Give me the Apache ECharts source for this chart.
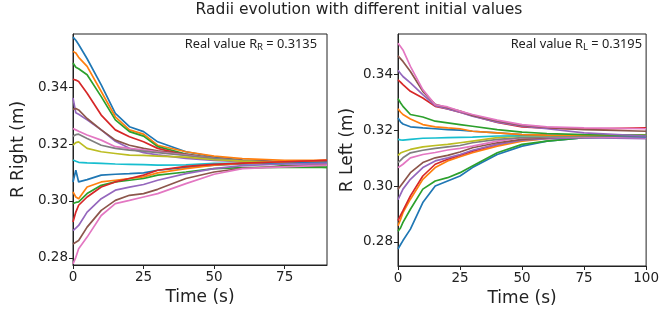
<!DOCTYPE html>
<html>
<head>
<meta charset="utf-8">
<script src="https://cdn.jsdelivr.net/npm/echarts@6/dist/echarts.min.js"></script>
<style>html,body{margin:0;padding:0;background:#fff}#c{width:662px;height:320px}</style>
</head>
<body>
<div id="c"></div>
<script>
// ---------- data ----------
const titleText = 'Radii evolution with different initial values';
const leftTime  = [0, 1, 2, 5, 10, 15, 20, 25, 30, 40, 50, 60, 75, 90];
const rightTime = [0, 1, 2, 5, 10, 15, 20, 25, 30, 40, 50, 60, 75, 100];
const leftXTicks  = [0, 25, 50, 75];
const rightXTicks = [0, 25, 50, 75, 100];
const yTicks = [0.28, 0.30, 0.32, 0.34];
const realRight = 0.3135;
const realLeft = 0.3195;

// R Right curves (descending initial value)
const rightR01 = [0.3576,0.3565,0.3550,0.3500,0.3408,0.3308,0.3261,0.3244,0.3208,0.3173,0.3155,0.3144,0.3138,0.3134];
const rightR02 = [0.3526,0.3520,0.3505,0.3473,0.3385,0.3296,0.3250,0.3235,0.3196,0.3173,0.3158,0.3149,0.3143,0.3143];
const rightR03 = [0.3485,0.3470,0.3465,0.3444,0.3367,0.3285,0.3244,0.3228,0.3191,0.3165,0.3149,0.3138,0.3125,0.3118];
const rightR04 = [0.3428,0.3425,0.3420,0.3379,0.3302,0.3250,0.3226,0.3208,0.3185,0.3161,0.3149,0.3142,0.3136,0.3143];
const rightR05 = [0.3362,0.3310,0.3305,0.3285,0.3250,0.3210,0.3185,0.3170,0.3162,0.3150,0.3143,0.3138,0.3135,0.3130];
const rightR06 = [0.3322,0.3325,0.3320,0.3290,0.3250,0.3214,0.3196,0.3185,0.3176,0.3165,0.3150,0.3142,0.3136,0.3132];
const rightR07 = [0.3255,0.3250,0.3245,0.3232,0.3214,0.3191,0.3185,0.3180,0.3173,0.3161,0.3149,0.3140,0.3132,0.3126];
const rightR08 = [0.3228,0.3233,0.3235,0.3220,0.3196,0.3185,0.3179,0.3175,0.3170,0.3160,0.3149,0.3142,0.3135,0.3132];
const rightR09 = [0.3196,0.3205,0.3208,0.3185,0.3173,0.3167,0.3161,0.3160,0.3158,0.3154,0.3145,0.3140,0.3135,0.3132];
const rightR10 = [0.3144,0.3140,0.3136,0.3134,0.3132,0.3130,0.3129,0.3128,0.3126,0.3127,0.3132,0.3132,0.3133,0.3132];
const rightR11 = [0.3067,0.3108,0.3067,0.3075,0.3091,0.3094,0.3096,0.3099,0.3108,0.3118,0.3126,0.3130,0.3135,0.3138];
const rightR12 = [0.3032,0.3014,0.3008,0.3049,0.3067,0.3073,0.3079,0.3085,0.3099,0.3114,0.3126,0.3132,0.3138,0.3143];
const rightR13 = [0.2991,0.2995,0.2997,0.3026,0.3055,0.3067,0.3073,0.3079,0.3091,0.3102,0.3114,0.3117,0.3118,0.3118];
const rightR14 = [0.2926,0.2961,0.2985,0.3014,0.3049,0.3067,0.3079,0.3091,0.3108,0.3122,0.3129,0.3133,0.3138,0.3143];
const rightR15 = [0.2896,0.2905,0.2914,0.2961,0.3008,0.3038,0.3049,0.3058,0.3073,0.3096,0.3114,0.3124,0.3130,0.3132];
const rightR16 = [0.2849,0.2855,0.2861,0.2908,0.2967,0.3002,0.3020,0.3026,0.3041,0.3079,0.3102,0.3115,0.3122,0.3126];
const rightR17 = [0.2779,0.2802,0.2832,0.2873,0.2949,0.2991,0.3002,0.3014,0.3026,0.3061,0.3094,0.3114,0.3120,0.3126];

// R Left curves (ascending initial value)
const leftR01 = [0.2775,0.2790,0.2805,0.2846,0.2941,0.3000,0.3018,0.3036,0.3066,0.3113,0.3143,0.3161,0.3173,0.3176];
const leftR02 = [0.2858,0.2880,0.2905,0.2953,0.3024,0.3066,0.3090,0.3105,0.3119,0.3143,0.3161,0.3170,0.3176,0.3173];
const leftR03 = [0.2838,0.2850,0.2870,0.2917,0.2989,0.3018,0.3030,0.3048,0.3072,0.3119,0.3149,0.3161,0.3173,0.3179];
const leftR04 = [0.2876,0.2895,0.2912,0.2965,0.3036,0.3078,0.3096,0.3110,0.3125,0.3149,0.3167,0.3172,0.3176,0.3181];
const leftR05 = [0.2951,0.2970,0.2989,0.3024,0.3066,0.3090,0.3101,0.3113,0.3128,0.3149,0.3164,0.3170,0.3173,0.3170];
const leftR06 = [0.2989,0.3000,0.3012,0.3048,0.3084,0.3101,0.3110,0.3122,0.3137,0.3155,0.3167,0.3173,0.3179,0.3176];
const leftR07 = [0.3066,0.3072,0.3078,0.3101,0.3113,0.3120,0.3129,0.3135,0.3143,0.3161,0.3173,0.3175,0.3176,0.3173];
const leftR08 = [0.3084,0.3092,0.3101,0.3119,0.3128,0.3135,0.3140,0.3145,0.3155,0.3167,0.3173,0.3176,0.3178,0.3179];
const leftR09 = [0.3110,0.3118,0.3122,0.3131,0.3140,0.3145,0.3149,0.3155,0.3161,0.3173,0.3179,0.3180,0.3181,0.3181];
const leftR10 = [0.3167,0.3165,0.3164,0.3167,0.3171,0.3172,0.3173,0.3174,0.3175,0.3179,0.3180,0.3181,0.3181,0.3181];
const leftR11 = [0.3244,0.3230,0.3222,0.3212,0.3208,0.3205,0.3202,0.3200,0.3196,0.3190,0.3184,0.3182,0.3181,0.3176];
const leftR12 = [0.3277,0.3265,0.3256,0.3240,0.3220,0.3212,0.3208,0.3205,0.3196,0.3190,0.3184,0.3182,0.3181,0.3181];
const leftR13 = [0.3313,0.3298,0.3285,0.3256,0.3247,0.3232,0.3226,0.3220,0.3214,0.3202,0.3193,0.3188,0.3184,0.3181];
const leftR14 = [0.3380,0.3372,0.3363,0.3339,0.3315,0.3285,0.3276,0.3264,0.3252,0.3228,0.3212,0.3207,0.3204,0.3208];
const leftR15 = [0.3414,0.3403,0.3392,0.3369,0.3327,0.3288,0.3276,0.3264,0.3250,0.3229,0.3214,0.3205,0.3190,0.3179];
const leftR16 = [0.3466,0.3456,0.3446,0.3410,0.3339,0.3292,0.3280,0.3268,0.3253,0.3233,0.3217,0.3210,0.3202,0.3196];
const leftR17 = [0.3511,0.3499,0.3487,0.3428,0.3345,0.3291,0.3283,0.3268,0.3256,0.3236,0.3220,0.3212,0.3208,0.3205];

const palette = ['#1f77b4','#ff7f0e','#2ca02c','#d62728','#9467bd','#8c564b','#e377c2','#7f7f7f','#bcbd22','#17becf'];
const rightCurves = [rightR01,rightR02,rightR03,rightR04,rightR05,rightR06,rightR07,rightR08,rightR09,rightR10,rightR11,rightR12,rightR13,rightR14,rightR15,rightR16,rightR17];
const leftCurves = [leftR01,leftR02,leftR03,leftR04,leftR05,leftR06,leftR07,leftR08,leftR09,leftR10,leftR11,leftR12,leftR13,leftR14,leftR15,leftR16,leftR17];

// ---------- chart ----------
const FONT = 'DejaVu Sans';
const FONT2 = 'Noto Sans';
const TXT = '#222';
const chart = echarts.init(document.getElementById('c'), null, {renderer: 'canvas'});

function xAxisDef(gi, max, ticks) {
  return {
    type: 'value', gridIndex: gi, min: 0, max: max,
    name: 'Time (s)', nameLocation: 'middle', nameGap: 20,
    nameTextStyle: {fontFamily: FONT, fontSize: 17, color: TXT},
    axisLine: {show: true, onZero: false, lineStyle: {color: '#222', width: 1}},
    axisTick: {show: true, length: 4, lineStyle: {color: '#222'}, customValues: ticks},
    axisLabel: {fontFamily: FONT, fontSize: 13.5, color: TXT, margin: 5, customValues: ticks},
    splitLine: {show: false}
  };
}
function yAxisDef(gi, min, max, name, gap) {
  return {
    type: 'value', gridIndex: gi, min: min, max: max,
    name: name, nameLocation: 'middle', nameGap: gap,
    nameTextStyle: {fontFamily: FONT, fontSize: 17, color: TXT},
    axisLine: {show: true, onZero: false, lineStyle: {color: '#222', width: 1}},
    axisTick: {show: true, length: 4, lineStyle: {color: '#222'}, customValues: yTicks},
    axisLabel: {fontFamily: FONT, fontSize: 13.5, color: TXT, margin: 5, customValues: yTicks,
      formatter: v => v.toFixed(2)},
    splitLine: {show: false}
  };
}

const series = [];
rightCurves.forEach((arr, i) => {
  series.push({type: 'line', xAxisIndex: 0, yAxisIndex: 0, showSymbol: false, symbol: 'none',
    data: leftTime.map((t, k) => [t, arr[k]]),
    lineStyle: {width: 1.7, color: palette[i % 10]}, itemStyle: {color: palette[i % 10]}, z: 2 + i, animation: false});
});
leftCurves.forEach((arr, i) => {
  series.push({type: 'line', xAxisIndex: 1, yAxisIndex: 1, showSymbol: false, symbol: 'none',
    data: rightTime.map((t, k) => [t, arr[k]]),
    lineStyle: {width: 1.7, color: palette[i % 10]}, itemStyle: {color: palette[i % 10]}, z: 2 + i, animation: false});
});

chart.setOption({
  animation: false,
  backgroundColor: '#fff',
  grid: [
    {left: 73, top: 34, width: 254, height: 231, show: true, borderColor: '#222', borderWidth: 1, backgroundColor: '#fff'},
    {left: 398, top: 34, width: 254, height: 232, show: true, borderColor: '#222', borderWidth: 1, backgroundColor: '#fff'}
  ],
  xAxis: [xAxisDef(0, 90, leftXTicks), xAxisDef(1, 100, rightXTicks)],
  yAxis: [yAxisDef(0, 0.2775, 0.3587, 'R Right (m)', 46), yAxisDef(1, 0.2714, 0.3544, 'R Left (m)', 42)],
  series: series,
  graphic: [
    {type: 'text', x: 359, y: 10, z: 100,
      style: {text: titleText, fontFamily: FONT, fontSize: 15.5, fill: TXT, align: 'center', verticalAlign: 'middle'}},
    {type: 'text', right: 662 - 317, top: 38, z: 100,
      style: {text: '{n|Real value R}{s|R}{n| = ' + realRight + '}', fontFamily: FONT2,
        rich: {n: {fontFamily: FONT2, fontSize: 12.8, fill: TXT, lineHeight: 16},
               s: {fontFamily: FONT2, fontSize: 9.5, fill: TXT, padding: [6, 0, 0, 0]}}}},
    {type: 'text', right: 662 - 642, top: 38, z: 100,
      style: {text: '{n|Real value R}{s|L}{n| = ' + realLeft + '}', fontFamily: FONT2,
        rich: {n: {fontFamily: FONT2, fontSize: 12.8, fill: TXT, lineHeight: 16},
               s: {fontFamily: FONT2, fontSize: 9.5, fill: TXT, padding: [6, 0, 0, 0]}}}}
  ]
});
</script>
</body>
</html>
